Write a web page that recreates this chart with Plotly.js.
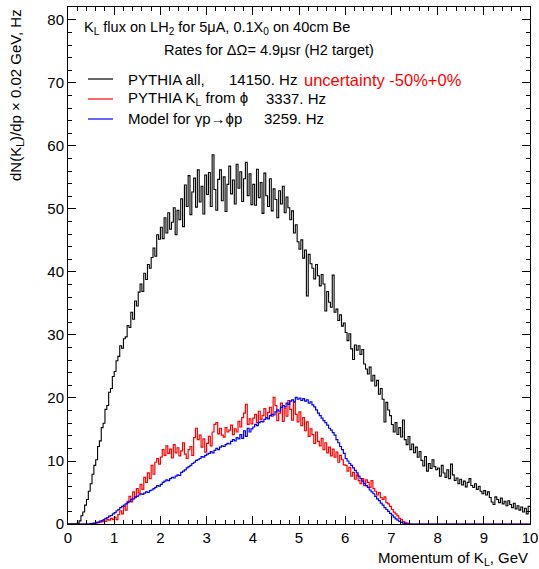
<!DOCTYPE html>
<html>
<head>
<meta charset="utf-8">
<script src="https://cdn.plot.ly/plotly-3.0.1.min.js"></script>
<style>html,body{margin:0;padding:0;background:#fff;}#chart{width:539px;height:569px;}</style>
</head>
<body>
<div id="chart"></div>
<script>
// Histogram bin width (GeV) used for the drawn arrays
const BIN = 0.04;

// PYTHIA all (black), values per 0.04 GeV bin starting at 0
const pythiaAll = [
  0,0,0,0,0,0.1,0.5,1.3,1.9,3.0,3.9,5.2,6.4,7.9,9.3,10.2,12.3,13.2,15.3,16.0,18.2,18.8,20.9,21.5,23.4,
  24.2,25.9,26.6,28.3,27.9,29.4,29.7,31.5,31.2,33.6,32.5,35.4,34.6,36.8,38.1,36.9,39.8,38.8,41.2,40.6,42.3,43.8,42.5,45.9,45.2,
  47.1,45.3,48.6,46.2,49.4,46.8,47.9,50.2,45.9,49.8,48.3,51.6,47.2,53.8,50.4,55.3,49.1,52.7,54.9,50.3,56.2,51.1,53.6,49.2,55.4,
  52.3,55.8,50.4,58.6,53.1,49.8,54.7,56.2,51.3,55.1,49.6,53.9,56.8,52.4,54.6,50.8,57.1,53.3,55.9,51.2,54.8,57.4,52.1,55.6,50.7,
  53.9,50.6,56.3,51.8,54.2,49.3,55.7,52.1,50.4,54.8,49.7,53.2,51.5,48.6,52.9,50.8,53.6,49.4,51.9,50.2,48.3,49.7,46.2,47.5,44.8,
  43.6,45.1,42.2,43.5,36.2,42.8,41.3,40.6,38.9,41.2,39.4,37.8,39.6,38.1,33.8,36.9,35.2,34.4,39.5,33.6,34.1,32.3,33.2,31.4,31.9,
  30.4,29.1,30.2,27.8,26.1,28.4,27.6,28.3,26.9,27.7,25.4,24.6,23.8,24.9,22.7,23.6,21.9,22.8,20.6,21.5,19.8,16.2,19.3,18.1,17.2,
  15.8,14.6,16.1,14.2,15.3,13.8,16.5,13.4,12.6,13.9,11.8,12.7,11.3,12.2,10.6,11.5,10.1,9.2,10.7,8.4,9.6,8.8,10.2,9.1,8.6,
  8.9,7.6,9.3,8.1,7.4,8.6,7.2,9.5,7.8,6.9,7.3,6.4,7.1,6.2,6.8,5.9,6.6,7.2,6.1,5.8,6.4,5.5,6.0,5.2,4.8,
  5.3,4.6,5.1,4.2,3.5,3.1,4.3,3.9,3.4,4.1,3.2,3.6,2.9,3.7,3.1,2.6,3.3,2.4,2.9,2.2,2.7,1.9,2.5,1.6,2.8
];

// PYTHIA K_L from phi (red)
const pythiaPhi = [
  0,0,0,0,0,0,0,0,0,0,0,0,0,0.05,0.1,0.15,0.2,0.3,0.35,0.5,0.4,0.7,0.6,0.9,0.7,
  1.1,0.7,1.5,2.1,1.6,2.8,2.2,3.6,4.4,3.5,5.1,4.2,5.6,4.9,6.3,5.5,7.4,6.6,8.1,7.2,9.3,7.9,9.8,10.4,9.5,
  10.6,11.8,10.9,12.4,11.2,11.9,10.5,12.6,11.3,12.1,10.8,11.6,12.9,11.1,10.4,11.8,12.3,10.9,13.7,15.2,13.4,14.1,12.2,13.5,11.4,
  12.8,13.9,12.4,14.6,15.8,16.1,14.3,15.2,14.1,13.8,15.3,14.6,14.9,15.7,14.2,15.1,14.6,16.3,15.4,16.9,17.6,19.0,15.8,16.7,15.9,
  16.8,17.4,16.1,17.9,16.6,17.2,18.3,16.9,17.7,18.5,17.1,20.1,18.8,16.4,17.6,19.2,16.3,18.4,17.1,19.6,18.2,16.5,19.3,17.4,16.2,
  17.8,15.6,16.9,14.8,16.2,13.9,15.1,14.2,12.8,14.6,13.1,12.4,13.6,11.8,12.9,11.3,12.2,10.8,11.9,10.6,11.4,9.8,10.9,10.2,9.4,
  9.3,8.4,9.0,7.6,8.2,7.1,7.8,6.9,6.4,7.2,6.1,7.0,6.6,5.8,6.9,5.6,5.2,4.6,5.0,4.2,3.9,4.3,3.4,3.2,2.8,
  2.3,1.9,1.6,1.3,0.9,0.7,0.4,0.25,0.15,0.05,0,0,0,0,0,0,0,0,0,0,0,0,0,0,0,
  0,0,0,0,0,0,0,0,0,0,0,0,0,0,0,0,0,0,0,0,0,0,0,0,0,
  0,0,0,0,0,0,0,0,0,0,0,0,0,0,0,0,0,0,0,0,0,0,0,0,0
];

// Model for gamma p -> phi p (blue)
const modelPhi = [
  0,0,0,0,0,0,0,0,0,0,0,0,0.05,0.1,0.15,0.25,0.3,0.45,0.55,0.7,0.9,1.0,1.25,1.35,1.6,
  1.8,2.1,2.3,2.6,2.8,3.0,3.2,3.4,3.6,3.9,4.0,4.3,4.4,4.6,4.8,4.7,4.9,5.1,5.0,5.3,5.4,5.6,5.8,6.1,6.0,
  6.3,6.6,6.8,7.0,6.9,7.2,7.4,7.3,7.6,7.8,7.7,8.2,8.4,8.6,8.9,9.1,9.3,9.6,9.8,10.1,10.2,10.4,10.7,10.6,10.9,
  11.1,11.2,11.5,11.3,11.7,12.0,11.8,12.2,12.4,12.3,12.6,12.8,12.7,13.1,13.4,13.2,13.7,13.5,14.2,13.6,14.8,13.9,15.2,14.6,15.1,
  15.4,15.8,15.6,16.1,16.3,16.2,16.6,16.9,16.7,17.2,17.4,17.3,17.8,18.1,17.9,18.5,18.8,18.6,19.2,19.0,19.5,19.7,19.4,20.1,19.8,
  20.0,19.6,19.9,19.5,19.7,19.2,19.4,18.9,18.6,18.1,17.6,17.2,16.8,16.4,16.1,15.7,15.2,14.9,14.5,14.1,13.4,12.9,12.3,11.8,11.2,
  10.4,10.0,9.6,9.3,8.9,8.5,8.1,7.6,7.2,6.8,6.4,6.1,5.8,5.4,5.1,4.8,4.4,4.0,3.7,3.3,3.0,2.6,2.3,2.0,1.7,
  1.4,1.1,0.8,0.6,0.4,0.25,0.15,0.08,0.03,0,0,0,0,0,0,0,0,0,0,0,0,0,0,0,0,
  0,0,0,0,0,0,0,0,0,0,0,0,0,0,0,0,0,0,0,0,0,0,0,0,0,
  0,0,0,0,0,0,0,0,0,0,0,0,0,0,0,0,0,0,0,0,0,0,0,0,0
];

// Text content
const header1 = 'K<sub>L</sub> flux on LH<sub>2</sub> for 5μA, 0.1X<sub>0</sub> on 40cm Be';
const header2 = 'Rates for ΔΩ= 4.9μsr (H2 target)';
const seriesNames = ['PYTHIA all,', 'PYTHIA K<sub>L</sub> from ϕ', 'Model for γp→ϕp'];
const seriesRates = ['14150. Hz', '3337. Hz', '3259. Hz'];
const uncertainty = 'uncertainty -50%+0%';
const xTitle = 'Momentum of K<sub>L</sub>, GeV';
const yTitle = 'dN(K<sub>L</sub>)/dp × 0.02 GeV, Hz';

function steps(vals) {
  const x = [], y = [];
  vals.forEach((v, i) => { x.push(+(i * BIN).toFixed(4)); y.push(v); });
  x.push(+(vals.length * BIN).toFixed(4)); y.push(vals[vals.length - 1]);
  return {x, y};
}

const colors = ['#000000', '#ff0000', '#0000ff'];
const widths = [1.1, 1.2, 1.2];
const series = [pythiaAll, pythiaPhi, modelPhi];
// draw red, then blue, then black on top
const traces = [1, 2, 0].map(k => {
  const s = steps(series[k]);
  return {type: 'scatter', mode: 'lines', x: s.x, y: s.y,
    line: {shape: 'hv', color: colors[k], width: widths[k]}, hoverinfo: 'skip', showlegend: false};
});

const FONT = 'Liberation Sans, Arial, Helvetica, sans-serif';
const L = 68, R = 530, T = 7, B = 524;
const px = v => (v - L) / (R - L);
const py = v => (B - v) / (B - T);

const ann = [];
const add = (text, x, y, opts) => ann.push(Object.assign({text, xref: 'paper', yref: 'paper',
  x: px(x), y: py(y), xanchor: 'left', yanchor: 'middle', showarrow: false,
  font: {family: FONT, size: 14.5, color: '#000'}}, opts || {}));

add(header1, 82, 28);
add(header2, 162, 50);
const rowY = [79, 99, 119];
const rateX = [227, 264, 262];
const shapes = [];
rowY.forEach((yy, i) => {
  add(seriesNames[i], 126, yy, {font: {family: FONT, size: 15, color: '#000'}});
  add(seriesRates[i], rateX[i], yy, {font: {family: FONT, size: 15, color: '#000'}});
  shapes.push({type: 'line', xref: 'paper', yref: 'paper', x0: px(88), x1: px(113), y0: py(yy), y1: py(yy),
    line: {color: colors[i], width: 1.2}});
});
add(uncertainty, 302, 80, {font: {family: FONT, size: 16.5, color: '#ff0000'}});
add(xTitle, 530, 558, {xanchor: 'right', font: {family: FONT, size: 15, color: '#000'}});
ann.push({text: yTitle, xref: 'paper', yref: 'paper', x: px(16), y: py(7), xanchor: 'center', yanchor: 'top',
  textangle: -90, showarrow: false, font: {family: FONT, size: 15, color: '#000'}});

const axisCommon = {
  showgrid: false, zeroline: false, showline: true, linecolor: '#000', linewidth: 1,
  mirror: 'ticks', ticks: 'inside', ticklen: 8, tickwidth: 1, tickcolor: '#000',
  tickfont: {family: FONT, size: 15, color: '#000'}, fixedrange: true
};

const layout = {
  width: 539, height: 569,
  margin: {l: L, r: 539 - R, t: T, b: 569 - B},
  paper_bgcolor: '#fff', plot_bgcolor: '#fff',
  showlegend: false,
  xaxis: Object.assign({}, axisCommon, {range: [0, 10], tick0: 0, dtick: 1,
    minor: {dtick: 0.2, ticklen: 4, ticks: 'inside', tickcolor: '#000', tickwidth: 1, showgrid: false}}),
  yaxis: Object.assign({}, axisCommon, {range: [0, 82.06], tick0: 0, dtick: 10,
    minor: {dtick: 2, ticklen: 4, ticks: 'inside', tickcolor: '#000', tickwidth: 1, showgrid: false}}),
  annotations: ann,
  shapes: shapes
};

Plotly.newPlot('chart', traces, layout, {staticPlot: true, displayModeBar: false});
</script>
</body>
</html>
